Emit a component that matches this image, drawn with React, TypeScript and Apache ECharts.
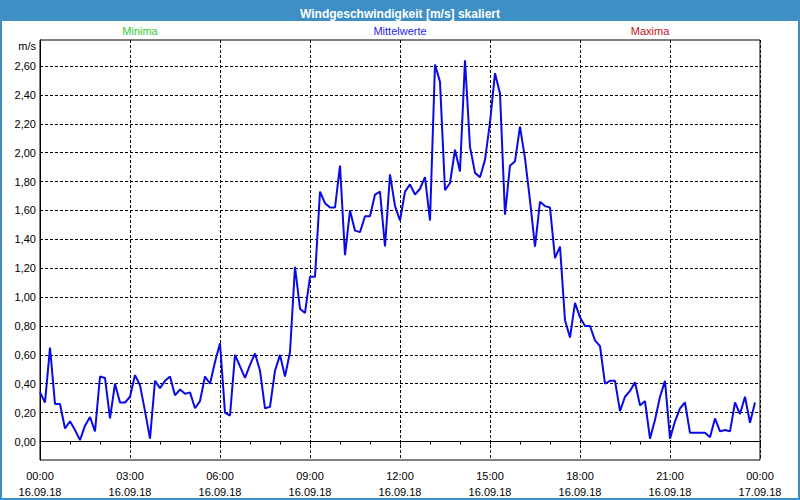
import React, { useEffect, useRef } from "react";
import * as echarts from "echarts";

const TITLE = "Windgeschwindigkeit [m/s] skaliert";
const LEGEND_NAMES = ["Minima", "Mittelwerte", "Maxima"];
const LEGEND_COLORS = ["#33cc33", "#2626e0", "#c41414"];
const Y_UNIT = "m/s";
const X_TICK_TIMES = ["00:00", "03:00", "06:00", "09:00", "12:00", "15:00", "18:00", "21:00", "00:00"];
const X_TICK_DATES = ["16.09.18", "16.09.18", "16.09.18", "16.09.18", "16.09.18", "16.09.18", "16.09.18", "16.09.18", "17.09.18"];
const Y_TICKS = [0, 0.2, 0.4, 0.6, 0.8, 1.0, 1.2, 1.4, 1.6, 1.8, 2.0, 2.2, 2.4, 2.6];
const SAMPLE_STEP_HOURS = 1 / 6; // 10-minute means

const MEAN = [
  0.34, 0.27, 0.65, 0.26, 0.26, 0.09, 0.14, 0.08, 0.01, 0.11, 0.17, 0.07,
  0.45, 0.44, 0.16, 0.40, 0.27, 0.27, 0.31, 0.46, 0.39, 0.21, 0.02, 0.42,
  0.37, 0.42, 0.45, 0.32, 0.36, 0.33, 0.34, 0.23, 0.28, 0.45, 0.40, 0.55,
  0.68, 0.20, 0.18, 0.60, 0.52, 0.44, 0.53, 0.61, 0.49, 0.23, 0.24, 0.49,
  0.60, 0.45, 0.62, 1.21, 0.92, 0.89, 1.14, 1.14, 1.73, 1.65, 1.62, 1.62,
  1.91, 1.29, 1.60, 1.46, 1.45, 1.56, 1.56, 1.71, 1.73, 1.35, 1.85, 1.63,
  1.53, 1.73, 1.78, 1.71, 1.75, 1.83, 1.53, 2.61, 2.49, 1.74, 1.79, 2.02,
  1.87, 2.64, 2.04, 1.86, 1.83, 1.95, 2.21, 2.55, 2.41, 1.57, 1.91, 1.94,
  2.18, 1.96, 1.67, 1.35, 1.66, 1.63, 1.62, 1.27, 1.35, 0.84, 0.72, 0.96,
  0.86, 0.80, 0.80, 0.70, 0.66, 0.40, 0.42, 0.42, 0.21, 0.31, 0.35, 0.41,
  0.25, 0.28, 0.02, 0.15, 0.31, 0.42, 0.02, 0.14, 0.23, 0.27, 0.06, 0.06,
  0.06, 0.06, 0.03, 0.16, 0.07, 0.08, 0.07, 0.27, 0.19, 0.31, 0.13, 0.27,
];

const FONT = "Liberation Sans";
const FRAME_BLUE = "#3d8fc6";

export default function App() {
  const ref = useRef<HTMLDivElement>(null);

  useEffect(() => {
    if (!ref.current) return;
    const chart = echarts.init(ref.current, undefined, { renderer: "svg" });
    const seriesData = MEAN.map((v, i) => [i * SAMPLE_STEP_HOURS, v]);
    const legendX = [140, 400, 650];

    chart.setOption({
      animation: false,
      backgroundColor: "transparent",
      textStyle: { fontFamily: FONT },
      title: {
        text: TITLE,
        left: "center",
        top: 3,
        textStyle: { color: "#ffffff", fontSize: 12, fontWeight: "bold", fontFamily: FONT },
      },
      graphic: [
        ...LEGEND_NAMES.map((name, i) => ({
          type: "text",
          x: legendX[i],
          y: 31,
          style: {
            text: name,
            fill: LEGEND_COLORS[i],
            font: `11px "${FONT}"`,
            textAlign: "center",
            textVerticalAlign: "middle",
          },
        })),
        {
          type: "text",
          x: 36,
          y: 46,
          style: {
            text: Y_UNIT,
            fill: "#000",
            font: `11px "${FONT}"`,
            textAlign: "right",
            textVerticalAlign: "middle",
          },
        },
      ],
      grid: {
        left: 40,
        right: 40,
        top: 40,
        bottom: 40,
        show: true,
        borderColor: "#000",
        borderWidth: 1,
        backgroundColor: "transparent",
        containLabel: false,
      },
      xAxis: {
        type: "value",
        min: 0,
        max: 24,
        interval: 3,
        axisLine: { show: true, lineStyle: { color: "#000", width: 1 } },
        axisTick: { show: true, length: 3, lineStyle: { color: "#000" } },
        minorTick: { show: true, splitNumber: 3, length: 3, lineStyle: { color: "#000" } },
        splitLine: { show: true, lineStyle: { color: "#000", type: [3, 2], width: 1 } },
        axisLabel: {
          color: "#000",
          fontSize: 11,
          fontFamily: FONT,
          lineHeight: 16,
          margin: 8,
          formatter: (v: number) => {
            const k = Math.round(v / 3);
            return `${X_TICK_TIMES[k]}\n${X_TICK_DATES[k]}`;
          },
        },
      },
      yAxis: {
        type: "value",
        min: -0.128,
        max: 2.78,
        axisLine: { show: true, onZero: false, lineStyle: { color: "#000", width: 1 } },
        axisTick: { show: false, customValues: Y_TICKS },
        splitLine: { show: true, lineStyle: { color: "#000", type: [3, 2], width: 1 } },
        axisLabel: {
          customValues: Y_TICKS,
          color: "#000",
          fontSize: 11,
          fontFamily: FONT,
          margin: 4,
          formatter: (v: number) => v.toFixed(2).replace(".", ","),
        },
      },
      series: [
        {
          name: LEGEND_NAMES[1],
          type: "line",
          data: seriesData,
          showSymbol: false,
          symbol: "none",
          lineStyle: { color: "#0a0ae6", width: 2 },
          z: 5,
        },
      ],
    });
    return () => chart.dispose();
  }, []);

  return (
    <div style={{ position: "fixed", left: 0, top: 0, width: 800, height: 500, background: FRAME_BLUE }}>
      <div style={{ position: "absolute", left: 2, top: 21, width: 796, height: 477, background: "#ffffff" }} />
      <div ref={ref} style={{ position: "absolute", left: 0, top: 0, width: 800, height: 500 }} />
    </div>
  );
}
